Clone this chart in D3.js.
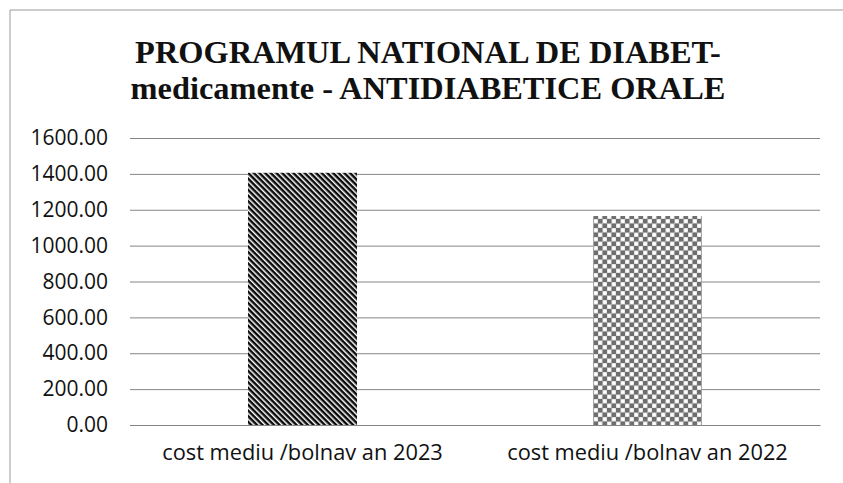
<!DOCTYPE html>
<html>
<head>
<meta charset="utf-8">
<script src="https://cdn.jsdelivr.net/npm/d3@7"></script>
<style>
  html, body { margin: 0; padding: 0; background: #fff; }
  svg { display: block; }
</style>
</head>
<body>
<div id="chart"></div>
<script>
// Data
const titleLines = ["PROGRAMUL NATIONAL DE DIABET-", "medicamente - ANTIDIABETICE ORALE"];
const categories = ["cost mediu /bolnav an 2023", "cost mediu /bolnav an 2022"];
const values = [1406, 1165];
const yTicks = [0, 200, 400, 600, 800, 1000, 1200, 1400, 1600];
const fills = ["url(#stripes)", "url(#checks)"];

const W = 843, H = 483;
const margin = { top: 138, right: 23, bottom: 58, left: 130 };
const width = W - margin.left - margin.right;
const height = H - margin.top - margin.bottom;

const root = d3.select("#chart").append("svg")
    .attr("width", W)
    .attr("height", H);

// Patterns: dark downward diagonal and grey checkerboard
const defs = root.append("defs");
const stripes = defs.append("pattern")
    .attr("id", "stripes")
    .attr("patternUnits", "userSpaceOnUse")
    .attr("width", 4).attr("height", 4)
    .attr("patternTransform", "rotate(45)");
stripes.append("rect").attr("width", 4).attr("height", 4).attr("fill", "#fff");
stripes.append("rect").attr("width", 4).attr("height", 2.5).attr("fill", "#0a0a0a");

const checks = defs.append("pattern")
    .attr("id", "checks")
    .attr("patternUnits", "userSpaceOnUse")
    .attr("width", 9).attr("height", 9);
checks.append("rect").attr("width", 9).attr("height", 9).attr("fill", "#dcdcdc");
checks.append("rect").attr("width", 4.5).attr("height", 4.5).attr("fill", "#6e6e6e");
checks.append("rect").attr("x", 4.5).attr("y", 4.5).attr("width", 4.5).attr("height", 4.5).attr("fill", "#6e6e6e");
checks.append("circle").attr("cx", 6.75).attr("cy", 2.25).attr("r", 1.7).attr("fill", "#fff");
checks.append("circle").attr("cx", 2.25).attr("cy", 6.75).attr("r", 1.7).attr("fill", "#fff");

// Chart frame (only top and left edges show on the scan)
root.append("path")
    .attr("d", `M10,${H} V10 H${W}`)
    .attr("fill", "none")
    .attr("stroke", "#9a9a9a")
    .attr("stroke-width", 1);

// Title, one text per line
root.selectAll(".title")
    .data(titleLines)
    .join("text")
    .attr("class", "title")
    .attr("x", 428)
    .attr("y", (d, i) => 63 + i * 36)
    .attr("text-anchor", "middle")
    .style("font-family", "'Liberation Serif', serif")
    .attr("font-weight", "bold")
    .attr("font-size", "32.4px")
    .attr("fill", "#111")
    .text(d => d);

const svg = root.append("g")
    .attr("transform", `translate(${margin.left},${margin.top})`);

// Scales
const x = d3.scaleBand()
    .domain(categories)
    .range([0, width])
    .paddingInner(0.684)
    .paddingOuter(0.342);

const y = d3.scaleLinear()
    .domain([0, 1600])
    .range([height, 0]);

// Grid lines
svg.append("g")
    .attr("class", "grid")
    .call(d3.axisLeft(y)
        .tickValues(yTicks)
        .tickSize(-width)
        .tickFormat("")
    )
    .call(g => g.select(".domain").remove())
    .call(g => g.selectAll("line").attr("stroke", "#858585").attr("stroke-width", 1));

// Y axis labels
svg.append("g")
    .call(d3.axisLeft(y).tickValues(yTicks).tickSize(0).tickPadding(22).tickFormat(d3.format(".2f")))
    .call(g => g.select(".domain").remove())
    .call(g => g.selectAll("text")
        .attr("font-family", "Open Sans, sans-serif")
        .attr("font-size", "21px")
        .attr("fill", "#111"));

// Bars
svg.selectAll(".bar")
    .data(values)
    .join("rect")
    .attr("class", "bar")
    .attr("x", (d, i) => x(categories[i]))
    .attr("y", d => y(d))
    .attr("width", x.bandwidth())
    .attr("height", d => height - y(d))
    .attr("fill", (d, i) => fills[i]);

// Category axis
svg.append("g")
    .attr("transform", `translate(0,${height})`)
    .call(d3.axisBottom(x).tickSize(0).tickPadding(20))
    .call(g => g.select(".domain").attr("stroke", "#858585"))
    .call(g => g.selectAll("text")
        .attr("font-family", "Open Sans, sans-serif")
        .attr("font-size", "21.8px")
        .attr("fill", "#111"));
</script>
</body>
</html>
